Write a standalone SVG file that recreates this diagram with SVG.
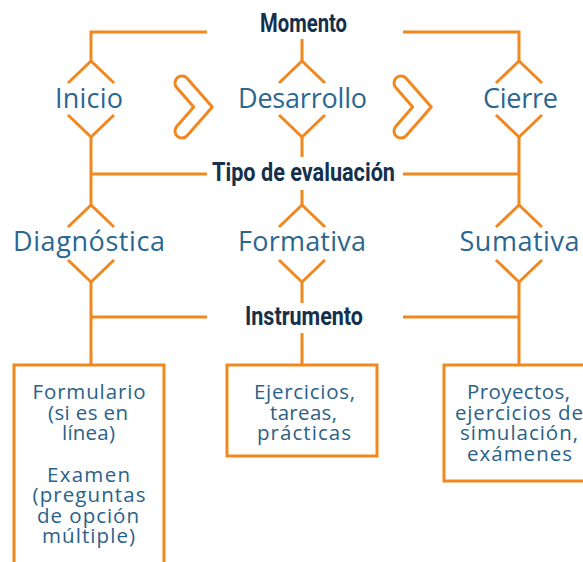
<svg xmlns="http://www.w3.org/2000/svg" width="583" height="562" viewBox="0 0 583 562">
<style>
.ln{fill:none;stroke:#F0871F;stroke-width:3;stroke-linecap:butt;stroke-linejoin:miter}
.chev{fill:#fff;stroke:#F0871F;stroke-width:3;stroke-linejoin:round}
.box{fill:#fff;stroke:#F0871F;stroke-width:3}
.hd{font-family:"Roboto","Liberation Sans",sans-serif;font-weight:bold;font-size:26px;fill:#14304D;text-anchor:middle}
.lb{font-family:"Open Sans","Noto Sans",sans-serif;font-size:27px;fill:#2A6690;text-anchor:middle}
.bt{font-family:"Open Sans","Noto Sans",sans-serif;font-size:20.5px;fill:#2A6188;text-anchor:middle}
</style>
<rect width="583" height="562" fill="#fff"/>
<g id="connectors" class="ln">
<path d="M91,61 V32 H207"/>
<path d="M403,32 H519 V61"/>
<path d="M302,39 V61"/>
<path d="M91,137 V205"/>
<path d="M91,174 H207"/>
<path d="M403,174 H519"/>
<path d="M519,137 V205"/>
<path d="M302,137 V157"/>
<path d="M302,190 V205"/>
<path d="M91,282 V365"/>
<path d="M91,317 H207"/>
<path d="M403,317 H519"/>
<path d="M519,282 V365"/>
<path d="M302,282 V303"/>
<path d="M302,333 V365"/>
</g>
<g id="momento"><text class="hd" x="303.5" y="32" textLength="87" lengthAdjust="spacingAndGlyphs">Momento</text></g>
<g id="tipo"><text class="hd" x="303.5" y="181" textLength="183" lengthAdjust="spacingAndGlyphs">Tipo de evaluación</text></g>
<g id="instrumento"><text class="hd" x="304" y="325" textLength="118" lengthAdjust="spacingAndGlyphs">Instrumento</text></g>
<g id="inicio">
<path class="ln" d="M68,83 L91,61 L114,83 M68,115 L91,137 L114,115"/>
<text class="lb" x="89" y="108" textLength="68">Inicio</text>
</g>
<g id="desarrollo">
<path class="ln" d="M279,83 L302,61 L325,83 M279,115 L302,137 L325,115"/>
<text class="lb" x="302.5" y="108" textLength="129">Desarrollo</text>
</g>
<g id="cierre">
<path class="ln" d="M496,83 L519,61 L542,83 M496,115 L519,137 L542,115"/>
<text class="lb" x="520.5" y="108" textLength="75">Cierre</text>
</g>
<g id="chevron1"><path class="chev" d="M187.3,78.4 L212.3,107 L187.3,135.6 A7,7 0 0 1 176.7,126.4 L193.7,107 L176.7,87.6 A7,7 0 0 1 187.3,78.4 Z"/></g>
<g id="chevron2"><path class="chev" transform="translate(219,0)" d="M187.3,78.4 L212.3,107 L187.3,135.6 A7,7 0 0 1 176.7,126.4 L193.7,107 L176.7,87.6 A7,7 0 0 1 187.3,78.4 Z"/></g>
<g id="diagnostica">
<path class="ln" d="M68,227 L91,205 L114,227 M68,260 L91,282 L114,260"/>
<text class="lb" x="89" y="251" textLength="152">Diagnóstica</text>
</g>
<g id="formativa">
<path class="ln" d="M279,227 L302,205 L325,227 M279,260 L302,282 L325,260"/>
<text class="lb" x="302" y="251" textLength="128">Formativa</text>
</g>
<g id="sumativa">
<path class="ln" d="M496,227 L519,205 L542,227 M496,260 L519,282 L542,260"/>
<text class="lb" x="519.5" y="251" textLength="120">Sumativa</text>
</g>
<g id="box-diagnostica">
<rect class="box" x="14" y="365" width="150" height="215"/>
<text class="bt"><tspan x="89" y="399" textLength="113">Formulario</tspan><tspan x="88" y="419.5" textLength="80">(si es en</tspan><tspan x="88.5" y="440" textLength="53">línea)</tspan><tspan x="88.5" y="481.5" textLength="83">Examen</tspan><tspan x="89" y="502" textLength="113">(preguntas</tspan><tspan x="88" y="522.5" textLength="102">de opción</tspan><tspan x="88.5" y="543" textLength="93">múltiple)</tspan></text>
</g>
<g id="box-formativa">
<rect class="box" x="227" y="365" width="150" height="91"/>
<text class="bt"><tspan x="304.5" y="399" textLength="101">Ejercicios,</tspan><tspan x="303.5" y="419.5" textLength="67">tareas,</tspan><tspan x="304" y="440" textLength="94">prácticas</tspan></text>
</g>
<g id="box-sumativa">
<rect class="box" x="444" y="365" width="150" height="116"/>
<text class="bt"><tspan x="518.5" y="399" textLength="103">Proyectos,</tspan><tspan x="519" y="419.5" textLength="128">ejercicios de</tspan><tspan x="519" y="440" textLength="118">simulación,</tspan><tspan x="519.5" y="460.5" textLength="105">exámenes</tspan></text>
</g>
</svg>
